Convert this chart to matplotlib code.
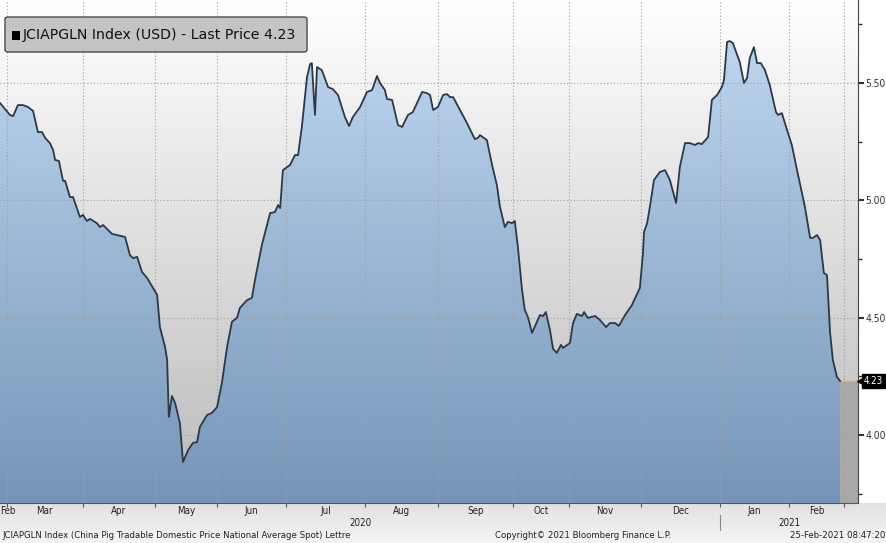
import numpy as np
import matplotlib.pyplot as plt
from matplotlib.colors import LinearSegmentedColormap
from matplotlib.patches import PathPatch, FancyBboxPatch, Rectangle
from matplotlib.path import Path

# trading-day index (China market days) from late Feb 2020 to 25 Feb 2021
days = np.array([
    0.0, 2.9, 3.8, 5.2, 6.7, 8.1, 9.6, 11.0, 12.2, 13.1, 14.5, 15.4, 16.0, 17.1,
    18.3, 18.9, 20.3, 21.2, 23.2, 24.1, 25.2, 26.1, 28.1, 29.0, 29.9, 32.5, 34.0,
    36.3, 37.7, 38.6, 39.8, 41.2, 42.7, 44.4, 45.6, 46.4, 47.9, 48.5, 49.0, 49.9,
    50.8, 52.2, 53.1, 54.6, 56.0, 57.2, 58.0, 60.1, 61.5, 63.0, 64.4, 65.9, 67.3,
    68.8, 69.6, 71.7, 73.1, 74.0, 76.0, 78.4, 79.8, 80.7, 81.3, 82.1, 84.2, 85.6,
    86.5, 87.6, 89.1, 90.0, 90.5, 91.4, 92.0, 93.4, 95.2, 96.6, 98.1, 100.1, 101.3,
    102.4, 104.5, 106.5, 108.0, 109.4, 110.3, 111.7, 112.3, 113.8, 115.5, 116.7,
    118.4, 119.8, 122.5, 123.9, 124.8, 125.7, 127.1, 128.6, 129.7, 130.6, 131.5,
    133.5, 135.5, 137.8, 138.7, 139.3, 141.3, 142.8, 144.2, 145.1, 146.5, 147.4,
    148.6, 149.4, 150.3, 151.5, 152.3, 153.2, 154.4, 156.7, 157.6, 158.4, 159.6,
    160.5, 161.6, 162.8, 163.4, 165.4, 166.3, 167.4, 168.9, 169.5, 170.6, 172.7,
    174.1, 175.9, 177.0, 178.5, 179.6, 181.4, 183.4, 185.7, 186.6, 186.9, 187.8,
    188.6, 189.8, 191.5, 193.0, 194.4, 196.2, 197.3, 198.8, 200.2, 201.7, 202.6,
    203.7, 205.5, 206.6, 208.1, 209.5, 210.1, 211.0, 211.8, 212.7, 214.7, 215.9,
    216.8, 217.6, 218.8, 219.7, 220.8, 222.0, 223.4, 225.2, 225.8, 226.9, 228.4,
    229.8, 231.3, 233.6, 235.1, 235.9, 237.1, 238.0, 239.1, 240.0, 240.9, 241.7,
    242.9, 243.8,
])
price = np.array([
    5.415, 5.364, 5.359, 5.406, 5.406, 5.398, 5.381, 5.291, 5.291, 5.266, 5.244,
    5.215, 5.172, 5.168, 5.083, 5.083, 5.014, 5.014, 4.929, 4.938, 4.912, 4.921,
    4.903, 4.886, 4.895, 4.857, 4.852, 4.844, 4.767, 4.754, 4.759, 4.695, 4.669,
    4.627, 4.597, 4.460, 4.375, 4.320, 4.077, 4.166, 4.137, 4.051, 3.885, 3.936,
    3.966, 3.970, 4.034, 4.085, 4.094, 4.119, 4.222, 4.375, 4.482, 4.500, 4.541,
    4.575, 4.584, 4.661, 4.810, 4.946, 4.950, 4.980, 4.967, 5.129, 5.151, 5.193,
    5.193, 5.313, 5.526, 5.581, 5.585, 5.364, 5.568, 5.555, 5.483, 5.474, 5.449,
    5.355, 5.317, 5.355, 5.398, 5.462, 5.470, 5.530, 5.500, 5.470, 5.432, 5.428,
    5.321, 5.313, 5.364, 5.376, 5.462, 5.457, 5.449, 5.385, 5.398, 5.449, 5.453,
    5.440, 5.440, 5.385, 5.330, 5.261, 5.266, 5.278, 5.257, 5.151, 5.065, 4.972,
    4.886, 4.908, 4.903, 4.912, 4.801, 4.618, 4.533, 4.503, 4.435, 4.511, 4.507,
    4.524, 4.448, 4.367, 4.350, 4.384, 4.371, 4.392, 4.477, 4.516, 4.507, 4.524,
    4.499, 4.507, 4.490, 4.460, 4.477, 4.477, 4.465, 4.511, 4.554, 4.627, 4.776,
    4.865, 4.903, 4.972, 5.087, 5.121, 5.129, 5.087, 4.989, 5.142, 5.244, 5.244,
    5.236, 5.244, 5.240, 5.270, 5.428, 5.449, 5.483, 5.513, 5.675, 5.679, 5.670,
    5.589, 5.500, 5.521, 5.607, 5.653, 5.585, 5.585, 5.555, 5.491, 5.376, 5.364,
    5.372, 5.300, 5.236, 5.129, 4.972, 4.840, 4.840, 4.852, 4.831, 4.690, 4.682,
    4.435, 4.320, 4.247, 4.230,
])
last_price = 4.23

month_starts = [2, 24, 45, 63, 83, 106, 127, 149, 165, 186, 209, 229, 245]
month_label_pos = [2.3, 13, 34.5, 54, 73, 94.5, 116.5, 138, 157, 175.5, 197.5, 219, 237]
month_labels = ['Feb', 'Mar', 'Apr', 'May', 'Jun', 'Jul', 'Aug', 'Sep', 'Oct',
                'Nov', 'Dec', 'Jan', 'Feb']
years = ['2020', '2021']
year_pos = [104.5, 229]
year_break = 209

y_major = [4.00, 4.50, 5.00, 5.50]
y_minor = [3.75, 4.25, 4.75, 5.25, 5.75]

xmin, xmax = 0, 249
ymin, ymax = 3.71, 5.854

small = dict(family='DejaVu Sans', fontstretch='condensed')

fig = plt.figure(figsize=(8.87, 5.43), dpi=100)
fig.patch.set_facecolor('white')

# bottom band behind the month labels / footer
band = fig.add_axes([0, 0, 1, 40 / 543], zorder=-5)
band.imshow(np.linspace(0, 1, 64).reshape(-1, 1), aspect='auto',
            cmap=LinearSegmentedColormap.from_list('band', ['#e2e2e2', '#f4f4f4']),
            extent=[0, 1, 0, 1], origin='upper')
band.set_axis_off()

ax = fig.add_axes([0, 40 / 543, 858 / 887, 503 / 543])
ax.set_xlim(xmin, xmax)
ax.set_ylim(ymin, ymax)

# background gradient
ax.imshow(np.linspace(0, 1, 256).reshape(-1, 1), aspect='auto', zorder=0,
          cmap=LinearSegmentedColormap.from_list('bg', ['#ffffff', '#bababa']),
          extent=[xmin, xmax, ymin, ymax], origin='upper')

# area under the curve with a vertical blue gradient
verts = np.vstack([[days[0], ymin], np.column_stack([days, price]),
                   [days[-1], ymin], [days[0], ymin]])
clip = PathPatch(Path(verts, closed=True), facecolor='none', edgecolor='none',
                 transform=ax.transData)
ax.add_patch(clip)
grad = ax.imshow(np.linspace(0, 1, 256).reshape(-1, 1), aspect='auto', zorder=1,
                 cmap=LinearSegmentedColormap.from_list('fill', ['#c4dbf3', '#7595b8']),
                 extent=[xmin, xmax, ymin, ymax], origin='upper')
grad.set_clip_path(clip)

# future region after the last print
ax.fill_between([days[-1], xmax], [last_price, last_price], ymin,
                color='#a8a8a8', zorder=1, lw=0)
ax.plot([days[-1], xmax], [last_price, last_price], color='#f0a868', lw=1, zorder=3)

ax.plot(days, price, color='#2b3848', lw=1.3, zorder=4)

# grid
ax.set_xticks(month_starts)
ax.set_xticks(month_label_pos, minor=True)
ax.set_xticklabels([])
ax.set_xticklabels(month_labels, minor=True, fontsize=7, color='#222', **small)
ax.tick_params(axis='x', which='major', length=3, color='#555', direction='out')
ax.tick_params(axis='x', which='minor', length=0, pad=2)
ax.yaxis.tick_right()
ax.set_yticks(y_major)
ax.set_yticks(y_minor, minor=True)
ax.set_yticklabels([f'{v:.2f}' for v in y_major], fontsize=7.4, color='#333', **small)
ax.tick_params(axis='y', which='major', length=4, width=1.5, color='#333', pad=1.5)
ax.tick_params(axis='y', which='minor', length=3, width=1, color='#333')
ax.grid(True, which='major', linestyle=(0, (1, 2)), color='#a0a0a0', lw=0.8, zorder=2)
ax.set_axisbelow(False)
for s in ['left', 'top']:
    ax.spines[s].set_visible(False)
ax.spines['right'].set_color('#444')
ax.spines['bottom'].set_color('#555')
for s in ['right', 'bottom']:
    ax.spines[s].set_zorder(6)

# year labels and separator
xt = ax.get_xaxis_transform()
for yl, yp in zip(years, year_pos):
    ax.text(yp, -20 / 503, yl, transform=xt, ha='center', va='center',
            fontsize=7, color='#222', **small)
ax.plot([year_break, year_break], [-12 / 503, -27 / 503], transform=xt,
        color='#888', lw=0.8, clip_on=False)

# last price tag
yt = ax.get_yaxis_transform()
ax.plot([1.002], [last_price], marker='<', ms=4.5, color='black', mec='black',
        transform=yt, clip_on=False, zorder=7)
ax.text(1.007, last_price, '4.23', transform=yt,
        ha='left', va='center', color='white', fontsize=7, zorder=8, **small,
        bbox=dict(boxstyle='square,pad=0.16', fc='black', ec='black'))

# legend box
fig.patches.append(FancyBboxPatch((5 / 887, 1 - 52 / 543), 302 / 887, 35 / 543,
                                  boxstyle='round,pad=0,rounding_size=0.004',
                                  transform=fig.transFigure, fc='#c4c4c4',
                                  ec='#4a4a4a', lw=1, zorder=10))
fig.patches.append(Rectangle((12 / 887, 1 - 40 / 543), 8 / 887, 9 / 543,
                             transform=fig.transFigure, fc='black', ec='none', zorder=11))
fig.text(23 / 887, 1 - 35 / 543, 'JCIAPGLN Index (USD) - Last Price 4.23',
         fontsize=10.2, color='#111', va='center', ha='left', zorder=12)

# footer
fy = 1 - 536 / 543
fig.text(2 / 887, fy, 'JCIAPGLN Index (China Pig Tradable Domestic Price National Average Spot) Lettre',
         fontsize=6.8, color='#222', va='center', ha='left', **small)
fig.text(583 / 887, fy, 'Copyright\u00a9 2021 Bloomberg Finance L.P.',
         fontsize=6.8, color='#222', va='center', ha='center', **small)
fig.text(885 / 887, fy, '25-Feb-2021 08:47:20',
         fontsize=6.8, color='#222', va='center', ha='right', **small)

fig.savefig('out.png', dpi=100)
